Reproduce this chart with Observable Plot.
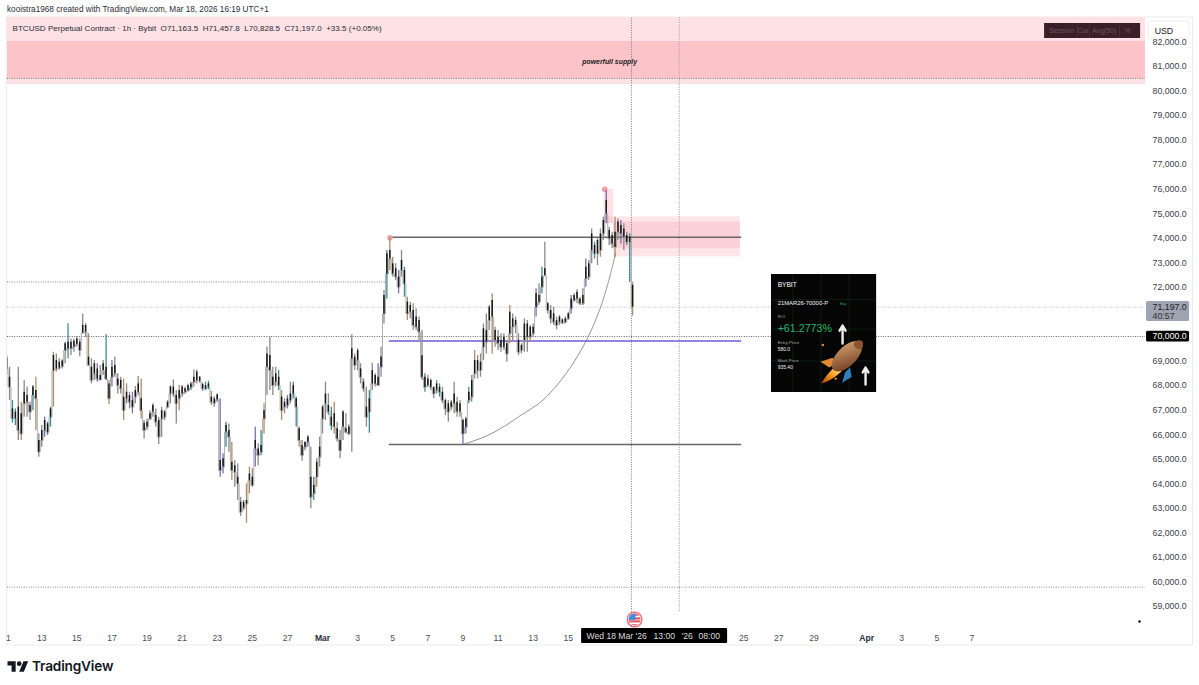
<!DOCTYPE html>
<html>
<head>
<meta charset="utf-8">
<script src="https://cdn.jsdelivr.net/npm/d3@7"></script>
<script src="https://cdn.jsdelivr.net/npm/@observablehq/plot@0.6"></script>
<style>
html,body{margin:0;padding:0;background:#fff;overflow:hidden}
#top{height:17px;padding-left:7px;font:8.2px/20px "Liberation Sans",sans-serif;color:#2a2e39;white-space:nowrap}
#chart{height:633px}
#chart svg{display:block}
#foot{height:35px;position:relative}
#foot svg{position:absolute;left:7px;top:9px}
#foot span{position:absolute;left:32px;top:6px;font:600 13.7px/20px Inter,"Liberation Sans",sans-serif;color:#131722;letter-spacing:-.2px}
</style>
</head>
<body>
<div id="top">kooistra1968 created with TradingView.com, Mar 18, 2026 16:19 UTC+1</div>
<div id="chart"></div>
<div id="foot"><svg width="22" height="14" viewBox="0 0 36 24"><path fill="#131722" d="M14 22H7V11H0V4h14v18zM28 22h-8l7.5-18h8L28 22z"/><circle fill="#131722" cx="20" cy="8" r="4"/></svg><span>TradingView</span></div>
<script>
// 4-hour summaries of the BTCUSD candles, first bar 11 Feb 2026 00:00
const firstBar = Date.UTC(2026, 1, 11);
const highs = [69230,68750,67390,67050,68750,67320,68210,67940,67320,68000,68340,66030,66370,66710,66510,67120,69360,69290,69090,69050,69770,70520,69900,69900,70000,69900,70920,70520,70110,69090,69020,68890,68820,69020,70070,68210,69020,69160,68480,68340,68270,68070,67730,67730,67960,68370,68270,66580,66640,66980,67260,67050,66710,67120,66980,67390,68000,68230,67800,68000,68000,67940,68070,68140,68640,68640,68370,68100,68140,68180,67770,67550,67660,67460,65220,66510,66440,65690,64950,64810,63450,63320,64000,64680,64610,66310,65630,66170,67260,69570,69970,68750,68750,68610,67800,67460,67600,68140,68140,67530,66310,65760,65690,65970,65490,64270,65020,65900,67190,68140,67660,67120,67320,66510,66170,66980,66850,66410,70070,69290,69500,68890,68270,67940,67800,68910,68480,68890,69560,71870,73500,74000,73230,72960,72690,73500,72820,71600,71400,71330,71130,70790,70240,68480,68410,68270,67930,68210,68070,67930,67460,67390,67390,68140,67530,67390,66640,66710,67930,68410,69430,69220,69290,70510,70920,71260,71740,70380,70240,70110,70110,69840,71260,70920,70790,70110,69700,70720,70650,70450,70510,71940,72140,72820,73840,71400,71260,71190,70790,70850,70720,70790,70990,71670,71740,71900,71600,71940,73160,73100,74380,73840,74050,74380,74860,75950,74450,74250,74860,74790,74720,74590,74250,74180,72210];
const lows = [68450,67390,66470,66370,65760,65760,66710,66710,66580,66980,66170,65080,65490,65900,65970,66310,67120,68550,68610,68680,68890,69090,69230,69360,69570,69180,70110,69970,68820,68070,68210,68140,68210,68410,68210,67230,67940,68340,67660,67660,66580,67260,67050,66850,67260,67600,66640,65830,66170,66580,66710,66310,65600,65900,66580,67050,67260,67530,66440,66980,67530,67640,67730,67800,67940,68070,68100,67770,67800,67830,67190,67120,67320,64270,64400,65490,65290,64130,63860,63320,62670,62910,62390,63590,63860,64680,64740,65150,66030,67600,67800,67600,67940,67800,66580,66850,67050,67260,67460,66310,65490,64920,65350,65490,62980,63320,63860,64680,66030,66580,66780,66170,66030,65690,65020,65760,66030,65970,65290,68610,68610,68070,67730,66310,66060,67800,67940,68000,68340,70510,71530,72690,72420,72280,71740,72420,71600,70650,70720,70240,70240,69840,68210,67730,67930,67800,67460,67660,67530,67260,66780,66510,66980,66850,66710,66710,65600,66030,67260,67320,68270,68270,68340,69020,69290,70240,69290,69560,69430,69360,69430,68950,69700,69840,70110,69220,69290,69360,69360,69770,69970,70790,71260,71740,72420,70920,70510,70450,70270,70450,70510,70510,70650,70920,71400,71330,71260,71260,72010,72280,72960,73160,72890,73230,73910,74590,73710,73570,73230,73910,73770,73500,73710,72210,70830];
const opens = [69130,68340,67050,66920,67120,66850,67730,67600,67190,67940,67800,65760,66170,66580,66440,67050,69230,69020,68950,69000,69700,69770,69770,69810,69900,69770,70450,70450,69160,68750,68890,68680,68410,68890,68750,68070,68750,68820,68270,68210,67530,67730,67600,67390,67800,68070,67460,66470,66510,66850,67190,66780,66580,66980,66920,67320,67940,67940,67600,67800,67940,67870,68000,68070,68340,68550,68340,68040,68000,68070,67530,67460,67620,64950,65020,66370,66170,64880,64740,64270,63250,63250,63320,64400,64270,65760,65420,65560,66980,69290,69230,68340,68480,68340,67530,67320,67460,67660,68000,67460,66240,65560,65690,65900,64270,63930,64880,65490,67120,67660,67190,66710,66850,66240,65760,66920,66240,66310,69500,69160,69430,68680,68140,67120,67460,68610,68410,68340,69160,71670,73370,73500,72960,72760,72420,73100,72690,71400,71260,71060,70790,70650,69220,68340,68270,68210,67930,68070,67930,67730,67390,67260,67320,67660,67320,67260,66580,66640,67730,68210,69020,69020,68950,70310,70240,71190,71470,70240,69970,69840,69970,69700,70990,70720,70650,69840,69630,70510,70510,70380,70380,71740,71670,72420,72760,71330,71060,70920,70650,70790,70680,70720,70920,71530,71670,71800,71530,71670,72820,72960,74180,73710,73910,74180,74720,75540,74320,74110,74250,74660,74520,74380,74110,74050,72080];
const closes = [68680,67940,66650,66650,66170,66030,67260,67320,66920,67600,67460,65290,65760,66170,66100,66710,68610,68680,68720,68780,69430,69500,69500,69570,69670,69430,70140,70180,68820,68210,68480,68270,68230,68610,68270,67460,68340,68480,68000,67870,66980,67460,67320,67120,67530,67730,66980,66170,66310,66640,66920,66510,65900,66640,66710,67120,67660,67660,67260,67460,67660,67730,67800,67910,68140,68210,68180,67870,67870,67940,67320,67280,67420,64540,64680,66100,65900,64540,64470,64000,62840,63020,63180,64130,63930,65420,65150,65290,66640,68750,68610,68000,68140,68000,66980,67120,67190,67390,67660,67120,65760,65150,65490,65690,63450,63590,64270,65080,66640,67260,66920,66370,66310,65830,65350,66310,66100,66030,69090,68820,69020,68340,67870,66710,66920,68070,68070,68000,68750,70920,72550,73160,72550,72420,72010,72690,72140,70920,70990,70450,70380,70180,68340,67930,68000,67930,67660,67800,67730,67390,67050,66920,67120,67260,66920,66920,66030,66300,67390,67530,68480,68610,68610,69560,69770,70650,70790,69840,69700,69560,69560,69290,70110,70380,70450,69360,69430,69840,69970,69970,70110,71190,71400,72010,72480,71060,70720,70580,70450,70580,70540,70580,70720,71130,71470,71530,71330,71330,72350,72420,73500,73370,73370,73500,74180,75000,73980,73770,73640,74250,74180,74050,73840,73840,71197];
const tints = "pgttgbgggtbggpttbggggtggggggbggpggtbpgggbggpggbggggggggggggbgggtgggpttbgtpptgbggggbbgpgtbggggtbgpgttbgppgtbggggtbggggggbggggtggpggtbggpgtbgggggtggggtgggggbgpptgbgggggbgggggbggggggbgpgtgggggggggpggbgpggtgbgpggbgpggtb";
const tintColors = {g:"#8a8a8a", t:"#3f8a93", b:"#ad8c68", p:"#7d6eab"};

const dayMs = 864e5, march1 = Date.UTC(2026, 2, 1);
const at = d => new Date(march1 + d * dayMs);     // days since 1 March
const paneDays = [-17.95, 46.89], panePrices = [58188, 82993];

const priceTicks = [59000,60000,61000,62000,63000,64000,65000,66000,67000,68000,69000,70000,72000,73000,74000,75000,76000,77000,78000,79000,80000,81000,82000];
const tickDays = [-17.9,-16,-14,-12,-10,-8,-6,-4,-2,2,4,6,8,10,12,14,24,26,28,33,35,37];
const tickNames = ["1","13","15","17","19","21","23","25","27","3","5","7","9","11","13","15","25","27","29","3","5","7"];
const monthDays = [0, 31], monthNames = ["Mar","Apr"];

const zones = [
  {d1:-17.95, d2:46.89, p1:80264, p2:82993, fill:"#fde1e4"},
  {d1:-17.95, d2:46.89, p1:80508, p2:82015, fill:"#fcc3c9"},
  {d1:16.05,  d2:16.58, p1:74600, p2:76000, fill:"#fde1e4"},
  {d1:16.05,  d2:16.58, p1:74600, p2:74870, fill:"#fbd1d7"},
  {d1:16.58,  d2:23.8,  p1:73240, p2:74870, fill:"#fde5e8"},
  {d1:16.58,  d2:23.8,  p1:73570, p2:74660, fill:"#fbd1d7"}
];
const levels = [
  {p:80510, d1:-17.95, d2:46.89, stroke:"#777"},
  {p:72220, d1:-17.95, d2:3.6,   stroke:"#888"},
  {p:71197, d1:-17.95, d2:46.89, stroke:"#bdbdbd"},
  {p:70000, d1:-17.95, d2:46.89, stroke:"#666"},
  {p:59790, d1:-17.95, d2:46.89, stroke:"#888"}
];
const lines = [
  {p:74040, d1:3.8, d2:23.88, stroke:"#666", w:1.5},
  {p:65600, d1:3.8, d2:23.88, stroke:"#666", w:1.5},
  {p:69817, d1:3.8, d2:23.88, stroke:"#7558d8", w:1.4}
];
const arcDays = [8.03,9.4,10.43,11.28,12.42,13.18,14.13,15.08,15.84,16.31,16.7];
const arcPrices = [65601,65968,66375,66782,67324,67870,68750,69906,71193,72281,73381];
const pivots = [{d:3.84, p:74020}, {d:16.08, p:76000}];
const crosshairs = [{d:17.6, stroke:"#777", w:1, p1:58188}, {d:20.33, stroke:"#b0b0b0", w:1.5, p1:58800}];

const card = {d1:25.58, d2:31.57, p1:67719, p2:72525};
const cardGridDays = [26.8,28.4,30];
const cardGridPrices = [71500,70300,69000];
const cardTexts = [
  {t:"BYBIT", d:25.93, p:72118, s:6.6, w:"bold", c:"#fff"},
  {t:"21MAR26-70000-P", d:25.93, p:71344, s:5.9, w:"bold", c:"#f2f2f2"},
  {t:"Buy", d:29.5, p:71344, s:3.5, w:"normal", c:"#1aa866"},
  {t:"ROI", d:25.93, p:70815, s:4.2, w:"normal", c:"#999"},
  {t:"+61.2773%", d:25.93, p:70326, s:10.7, w:"bold", c:"#21b56f"},
  {t:"Entry Price", d:25.93, p:69756, s:4.4, w:"normal", c:"#aaa"},
  {t:"580.0", d:25.93, p:69471, s:5, w:"bold", c:"#eee"},
  {t:"Mark Price", d:25.93, p:69022, s:4.4, w:"normal", c:"#aaa"},
  {t:"935.40", d:25.93, p:68737, s:5, w:"bold", c:"#eee"}
];
const cardArrows = [{d:29.63, p1:69715, p2:70448}, {d:30.94, p1:68045, p2:68737}];
const rocketPos = [{d:29.6, p:69000}];
const flagPos = [{d:17.78, p:58473}];
const cornerDot = [{d:46.55, p:58392}];

const toolbar = {d1:41.14, d2:46.61, p1:82138, p2:82749};
const toolbarDividers = [43.0,43.7,45.4];
const toolbarTexts = [{t:"Session",d:42.11},{t:"Cur",d:43.32},{t:"Avg(50)",d:44.53},{t:"%",d:45.85}];
const tags = [
  {d1:46.95, d2:49.4, p1:70610, p2:71425, fill:"#9fa3b2"},
  {d1:46.95, d2:49.4, p1:69780, p2:70210, fill:"#000"}
];
const tagTexts = [
  {t:"71,197.0", p:71197, c:"#222"},
  {t:"40:57",    p:70820, c:"#333"},
  {t:"70,000.0", p:70000, c:"#fff"}
];
const legend = "BTCUSD Perpetual Contract · 1h · Bybit  O71,163.5  H71,457.8  L70,828.5  C71,197.0  +33.5 (+0.05%)";
const crossLabels = [{t:"Wed 18 Mar '26",d:15.04},{t:"13:00",d:18.86},{t:"'26",d:20.46},{t:"08:00",d:21.42}];

const rocket = "data:image/svg+xml;utf8," + encodeURIComponent(`<svg xmlns="http://www.w3.org/2000/svg" viewBox="0 0 60 60"><defs><linearGradient id="g" x1="0" y1="0" x2="1" y2="1"><stop offset="0" stop-color="#d9a877"/><stop offset="1" stop-color="#6a3519"/></linearGradient><linearGradient id="f" x1="1" y1="0" x2="0" y2="1"><stop offset="0" stop-color="#fff6cf"/><stop offset=".45" stop-color="#ffa726"/><stop offset="1" stop-color="#b33a00"/></linearGradient></defs><path d="M24 36 C14 42 8 52 4 58 C12 56 22 50 30 42Z" fill="url(#f)"/><path d="M18 26 L3 31 L14 38 L24 32Z" fill="#e08a35"/><path d="M34 44 L30 57 L42 50 L40 38Z" fill="#2f7fc0"/><ellipse cx="36" cy="24" rx="12" ry="24" transform="rotate(45 36 24)" fill="url(#g)"/><path d="M50 4 C56 4 57 6 56 12 C54 17 50 16 46 12 C43 9 45 5 50 4Z" fill="#8a5530"/><circle cx="6" cy="10" r="1.6" fill="#e08a2a"/><circle cx="22" cy="52" r="1.5" fill="#e08a2a"/></svg>`);
const flag = "data:image/svg+xml;utf8," + encodeURIComponent(`<svg xmlns="http://www.w3.org/2000/svg" viewBox="0 0 20 20"><clipPath id="c"><circle cx="10" cy="10" r="7"/></clipPath><g clip-path="url(#c)"><rect width="20" height="20" fill="#fff"/><rect y="11" width="20" height="2.4" fill="#e8505b"/><rect y="15.6" width="20" height="2.4" fill="#e8505b"/><rect y="2" width="20" height="8" fill="#e8505b"/><rect y="5.5" x="10" width="10" height="2" fill="#fff"/><rect y="2" x="2" width="9" height="8.5" fill="#3d8fe0"/></g><circle cx="10" cy="10" r="8.6" fill="none" stroke="#f2707a" stroke-width="1.8"/></svg>`);

const bars = highs.map((h, i) => ({
  t: new Date(firstBar + i * 4 * 36e5), high: h, low: lows[i], open: opens[i], close: closes[i],
  color: tintColors[tints[i]] || tintColors.g
}));
const arc = arcDays.map((d, i) => ({t: at(d), p: arcPrices[i]}));
const sans = '"Liberation Sans",sans-serif';
const tickLabelOf = new Map(tickDays.map((d, i) => [+at(d), tickNames[i]]));
const monthLabelOf = new Map(monthDays.map((d, i) => [+at(d), monthNames[i]]));

const chart = Plot.plot({
  width: 1199, height: 633,
  marginTop: 0, marginBottom: 24, marginLeft: 7, marginRight: 54,
  style: {fontFamily: sans, background: "#fff", overflow: "visible"},
  x: {type: "utc", domain: paneDays.map(at), label: null},
  y: {type: "linear", domain: panePrices, label: null},
  marks: [
    Plot.rect([{}], {x1: () => at(-17.98), x2: () => at(49.6), y1: () => 57415, y2: () => 82993, stroke: "#ececec", fill: "none"}),
    Plot.rect(zones, {x1: d => at(d.d1), x2: d => at(d.d2), y1: "p1", y2: "p2", fill: "fill"}),
    Plot.ruleY(levels, {y: "p", x1: d => at(d.d1), x2: d => at(d.d2), stroke: "stroke", strokeWidth: 1, strokeDasharray: "1 1.4"}),
    Plot.ruleX(crosshairs, {x: d => at(d.d), y1: "p1", y2: panePrices[1], stroke: "stroke", strokeWidth: "w", strokeDasharray: "1 1.4"}),
    Plot.line(arc, {x: "t", y: "p", curve: "catmull-rom", stroke: "#777", strokeWidth: 0.8, strokeDasharray: "1.4 0.7"}),
    Plot.ruleY(lines, {y: "p", x1: d => at(d.d1), x2: d => at(d.d2), stroke: "stroke", strokeWidth: "w"}),
    Plot.dot(pivots, {x: d => at(d.d), y: "p", r: 2.8, fill: "#f4a0a8", stroke: "none"}),
    Plot.line(bars, {x: "t", y: "close", curve: "step", stroke: "#9a9a9a", strokeWidth: 0.8, clip: true}),
    Plot.ruleX(bars, {x: "t", y1: "low", y2: "high", stroke: "color", strokeWidth: 1.3, clip: true}),
    Plot.ruleX(bars, {x: "t", y1: "open", y2: "close", stroke: "#161616", strokeWidth: 1.5, clip: true}),
    Plot.text([legend], {x: () => at(-17.66), y: () => 82545, text: d => d, textAnchor: "start", fontSize: 8.05, fill: "#2a2e39"}),
    Plot.text(["powerfull supply"], {x: () => at(16.36), y: () => 81200, text: d => d, fontSize: 6.9, fontWeight: "bold", fontStyle: "italic", fill: "#222"}),
    // position card
    Plot.rect([card], {x1: d => at(d.d1), x2: d => at(d.d2), y1: "p1", y2: "p2", fill: "#050505"}),
    Plot.ruleX(cardGridDays, {x: at, y1: card.p1, y2: card.p2, stroke: "#0f2a18", strokeWidth: 0.7}),
    Plot.ruleY(cardGridPrices, {y: d => d, x1: () => at(card.d1), x2: () => at(card.d2), stroke: "#0f2a18", strokeWidth: 0.7}),
    Plot.text(cardTexts, {x: d => at(d.d), y: "p", text: "t", fontSize: "s", fontWeight: "w", fill: "c", textAnchor: "start"}),
    Plot.image(rocketPos, {x: d => at(d.d), y: "p", src: () => rocket, width: 48, height: 48}),
    Plot.arrow(cardArrows, {x1: d => at(d.d), x2: d => at(d.d), y1: "p1", y2: "p2", stroke: "#eee", strokeWidth: 2.4, bend: 0, headLength: 7}),
    Plot.dot(cornerDot, {x: d => at(d.d), y: "p", r: 1.2, fill: "#000"}),
    // price axis, tags and toolbar
    Plot.axisY({anchor: "right", ticks: priceTicks, tickFormat: d3.format(",.1f"), tickSize: 0, tickPadding: 7, fontSize: 8.8, color: "#3c404b", label: null}),
    Plot.rect(tags, {x1: d => at(d.d1), x2: d => at(d.d2), y1: "p1", y2: "p2", fill: "fill", rx: 1.5}),
    Plot.text(tagTexts, {x: () => at(47.29), y: "p", text: "t", fill: "c", textAnchor: "start", fontSize: 8.8}),
    Plot.rect([toolbar], {x1: d => at(d.d1), x2: d => at(d.d2), y1: "p1", y2: "p2", fill: "#3a1f29"}),
    Plot.ruleX(toolbarDividers, {x: at, y1: toolbar.p1, y2: toolbar.p2, stroke: "#4d3540", strokeWidth: 0.7}),
    Plot.text(toolbarTexts, {x: d => at(d.d), y: 82443, text: "t", fill: "#6e5660", fontSize: 7}),
    Plot.rect([{}], {x1: () => at(47.07), x2: () => at(49.4), y1: () => 82130, y2: () => 82830, fill: "#fff", stroke: "#eee", rx: 3}),
    Plot.text(["USD"], {x: () => at(47.41), y: () => 82440, text: d => d, textAnchor: "start", fontSize: 8.8, fill: "#222"}),
    // time axis
    Plot.axisX({anchor: "bottom", ticks: tickDays.map(at), tickFormat: d => tickLabelOf.get(+d), tickSize: 0, tickPadding: 8, fontSize: 8.6, color: "#4a4e59", label: null}),
    Plot.axisX({anchor: "bottom", ticks: monthDays.map(at), tickFormat: d => monthLabelOf.get(+d), tickSize: 0, tickPadding: 8, fontSize: 8.6, fontWeight: "bold", color: "#2a2e39", label: null}),
    Plot.rect([{}], {x1: () => at(14.76), x2: () => at(23.08), y1: () => 57496, y2: () => 58107, fill: "#000", rx: 1}),
    Plot.text(crossLabels, {x: d => at(d.d), y: 57790, text: "t", textAnchor: "start", fill: "#ddd", fontSize: 8.6}),
    Plot.image(flagPos, {x: d => at(d.d), y: "p", src: () => flag, width: 17, height: 17})
  ]
});
document.getElementById("chart").appendChild(chart);
</script>
</body>
</html>
